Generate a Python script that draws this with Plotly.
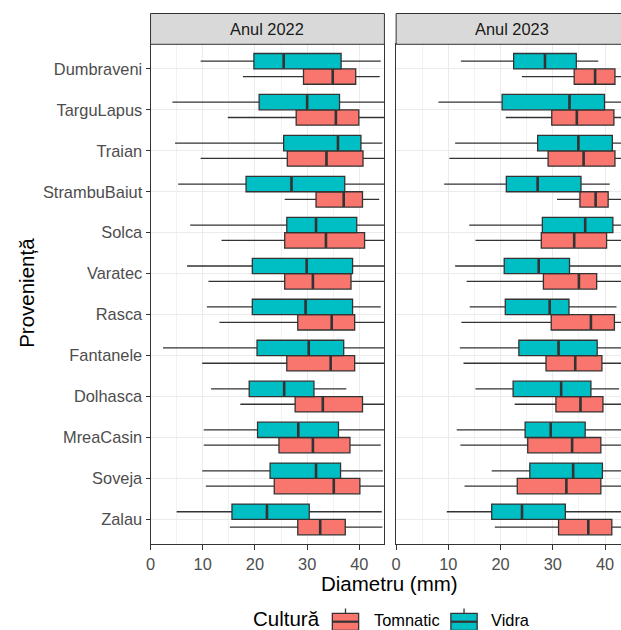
import plotly.graph_objects as go

# Categories listed bottom -> top
categories = ["Zalau", "Soveja", "MreaCasin", "Dolhasca", "Fantanele", "Rasca",
              "Varatec", "Solca", "StrambuBaiut", "Traian", "TarguLapus", "Dumbraveni"]
years = ["Anul 2022", "Anul 2023"]
groups = ["Tomnatic", "Vidra"]

# Stats per year/group, aligned with categories (bottom -> top)
stats = {
    ("Anul 2022", "Vidra"): {
        "low":    [5.0, 9.9, 10.2, 11.6, 2.4, 10.8, 7.0, 7.6, 5.3, 4.7, 4.2, 9.6],
        "q1":     [15.6, 22.9, 20.5, 18.9, 20.4, 19.5, 19.5, 26.1, 18.3, 25.5, 20.8, 19.8],
        "median": [22.3, 31.7, 28.3, 25.6, 30.3, 29.7, 29.9, 31.7, 27.0, 35.9, 30.0, 25.5],
        "q3":     [30.4, 36.4, 36.0, 31.3, 37.0, 38.7, 38.7, 39.5, 37.2, 40.3, 36.2, 36.5],
        "high":   [44.3, 44.5, 47.0, 37.5, 47.0, 44.1, 46.0, 46.0, 46.0, 44.4, 47.0, 44.1],
    },
    ("Anul 2022", "Tomnatic"): {
        "low":    [15.2, 10.6, 10.2, 17.2, 9.9, 13.2, 11.1, 13.6, 25.7, 9.6, 14.8, 17.7],
        "q1":     [28.2, 23.7, 24.6, 27.7, 26.1, 28.2, 25.7, 25.7, 31.7, 26.2, 27.9, 29.3],
        "median": [32.5, 35.1, 31.1, 33.0, 34.5, 34.7, 31.1, 33.6, 37.0, 33.7, 35.5, 34.9],
        "q3":     [37.3, 40.1, 38.2, 40.6, 39.1, 39.1, 38.4, 41.0, 40.6, 40.7, 39.9, 39.3],
        "high":   [44.4, 46.0, 44.1, 46.0, 46.0, 46.0, 46.0, 47.0, 43.8, 47.0, 46.0, 43.9],
    },
    ("Anul 2023", "Vidra"): {
        "low":    [9.7, 18.3, 11.6, 15.2, 12.2, 14.1, 11.3, 14.0, 9.2, 11.3, 8.1, 12.4],
        "q1":     [18.3, 25.6, 24.7, 22.4, 23.5, 20.9, 20.7, 28.0, 21.1, 27.1, 20.3, 22.5],
        "median": [24.1, 33.9, 29.6, 31.6, 31.1, 29.4, 27.3, 36.2, 27.1, 34.9, 33.2, 28.5],
        "q3":     [32.4, 39.5, 36.2, 37.3, 38.5, 33.1, 33.2, 41.5, 35.4, 41.4, 39.9, 34.5],
        "high":   [46.0, 46.0, 46.0, 42.7, 46.0, 42.2, 46.0, 46.0, 40.9, 46.0, 46.0, 38.7],
    },
    ("Anul 2023", "Tomnatic"): {
        "low":    [18.9, 13.1, 12.3, 22.7, 12.9, 12.5, 13.5, 15.2, 30.8, 10.2, 21.0, 24.1],
        "q1":     [31.1, 23.2, 25.2, 30.6, 28.7, 29.7, 28.2, 27.8, 35.2, 29.1, 29.8, 34.1],
        "median": [36.8, 32.6, 33.7, 35.3, 34.3, 37.3, 35.0, 34.1, 38.2, 35.9, 34.6, 38.1],
        "q3":     [41.3, 39.2, 39.2, 39.6, 39.4, 41.8, 38.4, 40.3, 40.6, 41.9, 41.7, 41.9],
        "high":   [46.0, 46.0, 45.0, 45.0, 46.0, 46.0, 45.0, 46.0, 45.0, 47.0, 46.0, 45.0],
    },
}

colors = {"Tomnatic": "#F8766D", "Vidra": "#00BFC4"}
offsets = {"Tomnatic": -0.1875, "Vidra": 0.1875}
axes = {"Anul 2022": ("x", "y"), "Anul 2023": ("x2", "y2")}

W, H = 621, 630
positions = list(range(1, len(categories) + 1))
FONT = "Liberation Sans, Arial, sans-serif"

fig = go.Figure()
for yr in years:
    xa, ya = axes[yr]
    for g in groups:
        s = stats[(yr, g)]
        ypos = [p + offsets[g] for p in positions]
        fig.add_trace(go.Box(
            y=ypos, q1=s["q1"], median=s["median"], q3=s["q3"],
            lowerfence=s["low"], upperfence=s["high"],
            orientation="h", width=0.375, whiskerwidth=0, boxpoints=False,
            fillcolor=colors[g], line=dict(color="#333333", width=1.3),
            name=g, showlegend=False,
            xaxis=xa, yaxis=ya, hoverinfo="skip",
        ))
for yr in years:
    xa, ya = axes[yr]
    for g in groups:
        s = stats[(yr, g)]
        ypos = [p + offsets[g] for p in positions]
        fig.add_trace(go.Scatter(
            x=s["median"], y=ypos, mode="markers",
            marker=dict(symbol="line-ns", size=10.5, line=dict(color="#333333", width=2.6)),
            showlegend=False, xaxis=xa, yaxis=ya, hoverinfo="skip",
        ))

def px_x(p):
    return p / W

def px_y(p):
    return 1 - p / H

x1_dom = [px_x(146.7), px_x(382.5)]
x2_dom = [px_x(394.3), 1.0]
y_dom = [px_y(544), px_y(44.3)]

xcommon = dict(
    showgrid=True, gridcolor="#EBEBEB", gridwidth=1.1,
    tickmode="array", tickvals=[0, 10, 20, 30, 40],
    minor=dict(tickvals=[5, 15, 25, 35], showgrid=True, gridcolor="#F2F2F2", gridwidth=0.6),
    ticks="outside", ticklen=5, tickcolor="#333333", tickwidth=1,
    tickfont=dict(size=16.4, color="#4D4D4D"),
    showline=True, linecolor="#333333", linewidth=1, mirror=True,
    zeroline=False, fixedrange=True,
)
fig.update_layout(
    xaxis=dict(domain=x1_dom, range=[0, 44.8], anchor="y", **xcommon),
    xaxis2=dict(domain=x2_dom, range=[0, 43.06], anchor="y2", **xcommon),
    yaxis=dict(domain=y_dom, range=[0.4, 12.6], anchor="x",
               tickmode="array", tickvals=positions, ticktext=categories,
               showgrid=True, gridcolor="#EBEBEB", gridwidth=1.1,
               ticks="outside", ticklen=4, tickcolor="#333333",
               tickfont=dict(size=16.4, color="#4D4D4D"),
               showline=True, linecolor="#333333", linewidth=1, mirror=True,
               zeroline=False),
    yaxis2=dict(domain=y_dom, range=[0.4, 12.6], anchor="x2",
                tickmode="array", tickvals=positions, showticklabels=False,
                showgrid=True, gridcolor="#EBEBEB", gridwidth=1.1, ticks="",
                showline=True, linecolor="#333333", linewidth=1, mirror=False,
                zeroline=False),
    width=W, height=H,
    margin=dict(l=0, r=0, t=0, b=0),
    paper_bgcolor="white", plot_bgcolor="white",
    font=dict(family=FONT, color="#000000"),
    showlegend=False,
)

# Facet strips
strip_top, strip_bot = px_y(13.5), px_y(44.3)
strip_doms = [x1_dom, [x2_dom[0], px_x(627)]]
for yr, dom in zip(years, strip_doms):
    fig.add_shape(type="rect", xref="paper", yref="paper",
                  x0=dom[0], x1=dom[1], y0=strip_bot, y1=strip_top,
                  fillcolor="#D9D9D9", line=dict(color="#333333", width=1), layer="above")
    fig.add_annotation(text=yr, xref="paper", yref="paper",
                       x=(dom[0] + dom[1]) / 2,
                       y=(strip_top + strip_bot) / 2, showarrow=False,
                       font=dict(size=16.4, color="#1A1A1A"), xanchor="center", yanchor="middle")

fig.add_annotation(text="Diametru (mm)", xref="paper", yref="paper",
                   x=px_x(388), y=px_y(583), showarrow=False,
                   font=dict(size=20.5, color="#000000"), xanchor="center", yanchor="middle")
fig.add_annotation(text="Proveniență", xref="paper", yref="paper",
                   x=px_x(21), y=px_y(293), showarrow=False, textangle=-90,
                   font=dict(size=20.5, color="#000000"), xanchor="center", yanchor="middle")

# Legend (ggplot-style keys)
fig.add_annotation(text="Cultură", xref="paper", yref="paper",
                   x=px_x(248), y=px_y(618.5), showarrow=False,
                   font=dict(size=20.5, color="#000000"), xanchor="left", yanchor="middle")
key_left = {"Tomnatic": 330, "Vidra": 449.5}
label_left = {"Tomnatic": 370, "Vidra": 488}
for g in groups:
    kx0 = key_left[g]
    kx1 = kx0 + 26.5
    fig.add_shape(type="line", xref="paper", yref="paper",
                  x0=px_x((kx0 + kx1) / 2), x1=px_x((kx0 + kx1) / 2),
                  y0=px_y(608.5), y1=px_y(613.3), line=dict(color="#333333", width=1.3))
    fig.add_shape(type="rect", xref="paper", yref="paper",
                  x0=px_x(kx0), x1=px_x(kx1), y0=px_y(630.5), y1=px_y(613.3),
                  fillcolor=colors[g], line=dict(color="#333333", width=1.3))
    fig.add_shape(type="line", xref="paper", yref="paper",
                  x0=px_x(kx0), x1=px_x(kx1), y0=px_y(621.7), y1=px_y(621.7),
                  line=dict(color="#333333", width=2.2))
    fig.add_annotation(text=g, xref="paper", yref="paper",
                       x=px_x(label_left[g]), y=px_y(619.5), showarrow=False,
                       font=dict(size=16.4, color="#000000"), xanchor="left", yanchor="middle")

fig.write_html("out.html")
